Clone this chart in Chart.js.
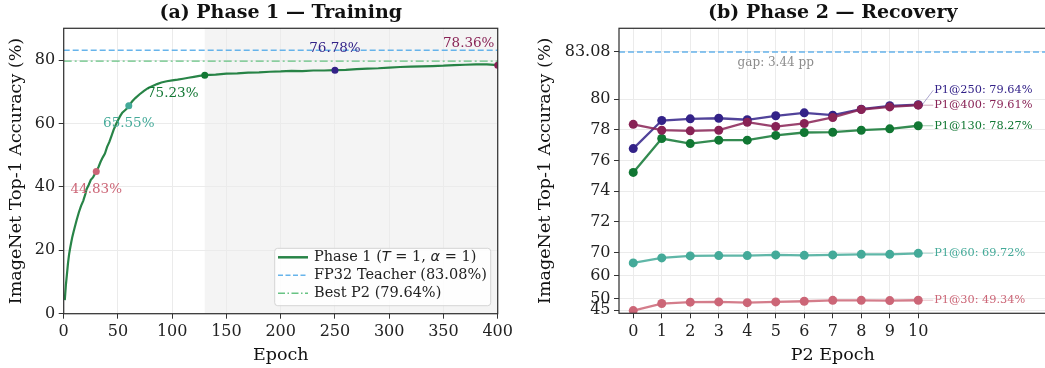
<!DOCTYPE html>
<html>
<head>
<meta charset="utf-8">
<script src="https://cdn.jsdelivr.net/npm/chart.js@4.4.1/dist/chart.umd.min.js"></script>
<style>
  html, body { margin: 0; padding: 0; background: #fff; overflow: hidden; }
  #wrap { position: relative; width: 1045px; height: 368px; overflow: hidden; }
  #left { position: absolute; left: 0; top: 0; }
  #right { position: absolute; left: 520px; top: 0; }
</style>
</head>
<body>
<div id="wrap">
  <div id="left"><canvas id="chartA" width="520" height="368"></canvas></div>
  <div id="right"><canvas id="chartB" width="531" height="368"></canvas></div>
</div>
<script>
const p1Epochs = [1, 2, 3, 4, 5, 6, 7, 8, 9, 10, 12, 14, 16, 18, 20, 21, 23, 25, 27, 30,
  32, 34, 36, 38, 40, 42, 44, 46, 48, 50, 52, 54, 56, 58, 60, 63, 66, 70, 74, 78,
  82, 86, 90, 95, 100, 105, 110, 115, 120, 125, 130, 140, 150, 160, 170, 180, 190, 200, 210, 220,
  230, 240, 250, 260, 270, 280, 290, 300, 310, 320, 330, 340, 350, 360, 370, 380, 390, 400];
const p1Acc = [4.3, 9.0, 12.5, 16.0, 18.8, 20.8, 22.6, 24.3, 25.7, 27.0, 29.6, 32.0, 34.0, 35.6, 37.8, 39.2, 40.6, 42.2, 43.0, 44.83,
  46.2, 47.9, 49.3, 50.5, 52.6, 54.1, 56.0, 58.0, 59.6, 61.0, 62.3, 63.4, 64.0, 64.6, 65.55, 66.9, 68.0, 69.2, 70.3, 71.2,
  71.8, 72.4, 72.9, 73.3, 73.6, 73.8, 74.1, 74.4, 74.7, 75.0, 75.23, 75.4, 75.7, 75.8, 76.0, 76.1, 76.3, 76.4, 76.6, 76.5,
  76.7, 76.7, 76.78, 76.9, 77.1, 77.3, 77.4, 77.6, 77.8, 77.9, 78.0, 78.1, 78.2, 78.4, 78.5, 78.6, 78.6, 78.36];

const markEpochs = [30, 60, 130, 250, 400];
const markAcc = [44.83, 65.55, 75.23, 76.78, 78.36];
const markNames = ['P1@30', 'P1@60', 'P1@130', 'P1@250', 'P1@400'];
const markColors = ['#CC6677', '#44AA99', '#117733', '#332288', '#882255'];

const teacherAcc = 83.08;
const bestP2Acc = 79.64;

const p2Epochs = [0, 1, 2, 3, 4, 5, 6, 7, 8, 9, 10];
const p2From30 = [44.83, 47.9, 48.5, 48.6, 48.3, 48.6, 48.9, 49.3, 49.3, 49.2, 49.34];
const p2From60 = [65.55, 67.72, 68.59, 68.72, 68.72, 69.02, 68.85, 69.02, 69.29, 69.29, 69.72];
const p2From130 = [75.23, 77.44, 77.11, 77.33, 77.33, 77.64, 77.83, 77.85, 77.98, 78.07, 78.27];
const p2From250 = [76.78, 78.61, 78.72, 78.76, 78.66, 78.92, 79.11, 78.96, 79.35, 79.57, 79.64];
const p2From400 = [78.36, 77.98, 77.94, 77.98, 78.5, 78.22, 78.42, 78.81, 79.33, 79.5, 79.61];

const leftXTicks = [0, 50, 100, 150, 200, 250, 300, 350, 400];
const leftYTicks = [0, 20, 40, 60, 80];
const rightYTicks = [45, 50, 60, 70, 72, 74, 76, 78, 80, 83.08];

const serif = 'DejaVu Serif';
const teacherColor = 'rgba(86,172,233,0.9)';
const bestColor = 'rgba(77,185,110,0.85)';
const p1Color = 'rgba(17,119,51,0.9)';

// axis below 70 is squeezed, like the reference
const toBroken = v => (v >= 70 ? v : 70 + (v - 70) * 0.15);
const fromBroken = t => (t >= 70 ? t : 70 + (t - 70) / 0.15);

const rgba = (hex, a) => {
  const n = parseInt(hex.slice(1), 16);
  return `rgba(${n >> 16},${(n >> 8) & 255},${n & 255},${a})`;
};

const axis = (title, titlePad, tickValues, size) => ({
  type: 'linear',
  grid: { color: '#ebebeb', lineWidth: 1, tickLength: 5, tickColor: '#333', tickWidth: 1 },
  border: { display: false },
  ticks: { color: '#222', padding: 3.5, autoSkip: false, maxRotation: 0, font: { family: serif, size: 16 } },
  title: { display: true, text: title, color: '#111', font: { family: serif, size: 17.5 }, padding: titlePad },
  afterBuildTicks: scale => { scale.ticks = tickValues.map(value => ({ value })); },
  afterFit: scale => {
    if (scale.isHorizontal()) scale.height = size; else scale.width = size;
  },
});

const titlePlugin = text => ({
  id: 'panelTitle',
  afterDraw(chart) {
    const { ctx, chartArea } = chart;
    ctx.save();
    ctx.font = `bold 19px "${serif}"`;
    ctx.fillStyle = '#111';
    ctx.textAlign = 'center';
    ctx.textBaseline = 'middle';
    ctx.fillText(text, (chartArea.left + chartArea.right) / 2, 13);
    ctx.restore();
  },
});

const framePlugin = {
  id: 'frame',
  afterDatasetsDraw(chart) {
    const { ctx, chartArea: a } = chart;
    ctx.save();
    ctx.strokeStyle = '#333';
    ctx.lineWidth = 1.25;
    ctx.strokeRect(a.left, a.top, a.right - a.left, a.bottom - a.top);
    ctx.restore();
  },
};

const shadePlugin = {
  id: 'shade',
  beforeDraw(chart) {
    const { ctx, chartArea: a, scales } = chart;
    const x0 = scales.x.getPixelForValue(130);
    const x1 = scales.x.getPixelForValue(400);
    ctx.save();
    ctx.fillStyle = '#f4f4f4';
    ctx.fillRect(x0, a.top, x1 - x0, a.bottom - a.top);
    ctx.restore();
  },
};

const leftLabelOffsets = [[0, 18], [0, 18], [-32, 18], [0, -22], [-29, -22]];

const leftLabels = {
  id: 'leftLabels',
  afterDatasetsDraw(chart) {
    const { ctx, scales } = chart;
    ctx.save();
    ctx.font = `13.5px "${serif}"`;
    ctx.textAlign = 'center';
    ctx.textBaseline = 'middle';
    markEpochs.forEach((ep, i) => {
      const x = scales.x.getPixelForValue(ep) + leftLabelOffsets[i][0];
      const y = scales.y.getPixelForValue(markAcc[i]) + leftLabelOffsets[i][1];
      ctx.fillStyle = markColors[i];
      ctx.fillText(markAcc[i].toFixed(2) + '%', x, y);
    });
    ctx.restore();
  },
};

const legendPlugin = {
  id: 'boxLegend',
  afterDraw(chart) {
    const { ctx } = chart;
    const bx = 274.7, by = 248.3, bw = 216, bh = 57.4;
    ctx.save();
    ctx.beginPath();
    ctx.roundRect(bx, by, bw, bh, 3);
    ctx.fillStyle = 'rgba(255,255,255,0.85)';
    ctx.fill();
    ctx.strokeStyle = '#d4d4d4';
    ctx.lineWidth = 1;
    ctx.stroke();

    const rows = [
      { color: p1Color, dash: [], width: 2.5, parts: [['Phase 1 (', 0], ['T', 1], [' = 1, ', 0], ['α', 1], [' = 1)', 0]] },
      { color: teacherColor, dash: [5, 2.5], width: 1.5, parts: [['FP32 Teacher (83.08%)', 0]] },
      { color: bestColor, dash: [7, 2.5, 1.5, 2.5], width: 1.5, parts: [['Best P2 (79.64%)', 0]] },
    ];
    const rowY = [257.3, 275.2, 293.3];
    rows.forEach((r, i) => {
      const y = rowY[i];
      ctx.beginPath();
      ctx.setLineDash(r.dash);
      ctx.strokeStyle = r.color;
      ctx.lineWidth = r.width;
      ctx.moveTo(278, y);
      ctx.lineTo(308, y);
      ctx.stroke();
      ctx.setLineDash([]);
      let x = 314;
      ctx.fillStyle = '#222';
      ctx.textBaseline = 'middle';
      ctx.textAlign = 'left';
      r.parts.forEach(([t, it]) => {
        ctx.font = it ? `italic 14.5px "DejaVu Sans"` : `14.5px "${serif}"`;
        ctx.fillText(t, x, y);
        x += ctx.measureText(t).width;
      });
    });
    ctx.restore();
  },
};

const pts = (xs, ys, f = v => v) => xs.map((x, i) => ({ x, y: f(ys[i]) }));

new Chart(document.getElementById('chartA'), {
  type: 'line',
  data: {
    datasets: [
      {
        data: pts(markEpochs, markAcc),
        showLine: false,
        pointRadius: 3.5,
        pointBorderWidth: 0,
        pointBackgroundColor: markColors,
      },
      {
        data: pts(p1Epochs, p1Acc),
        borderColor: p1Color,
        borderWidth: 2.2,
        pointRadius: 0,
        tension: 0,
      },
      {
        data: [{ x: 0, y: teacherAcc }, { x: 400, y: teacherAcc }],
        borderColor: teacherColor,
        borderWidth: 1.4,
        borderDash: [6, 3],
        pointRadius: 0,
      },
      {
        data: [{ x: 0, y: bestP2Acc }, { x: 400, y: bestP2Acc }],
        borderColor: bestColor,
        borderWidth: 1.4,
        borderDash: [8, 3, 2, 3],
        pointRadius: 0,
      },
    ],
  },
  options: {
    responsive: false,
    animation: false,
    layout: { padding: { top: 28.3, right: 22.3, left: 0, bottom: 0 } },
    plugins: { legend: { display: false }, tooltip: { enabled: false } },
    scales: {
      x: Object.assign(axis('Epoch', { top: 0, bottom: 2.5 }, leftXTicks, 54.3), { min: 0, max: 400 }),
      y: Object.assign(axis('ImageNet Top-1 Accuracy (%)', { top: 6.2, bottom: 0 }, leftYTicks, 63.7), { min: 0, max: 90 }),
    },
  },
  plugins: [shadePlugin, framePlugin, leftLabels, legendPlugin, titlePlugin('(a) Phase 1 — Training')],
});

const p2Series = [
  { name: 'P1@400', data: p2From400, color: '#882255', dy: 0 },
  { name: 'P1@250', data: p2From250, color: '#332288', dy: -14.5 },
  { name: 'P1@130', data: p2From130, color: '#117733', dy: 0 },
  { name: 'P1@60', data: p2From60, color: '#44AA99', dy: 0 },
  { name: 'P1@30', data: p2From30, color: '#CC6677', dy: 0 },
];

const rightLabels = {
  id: 'rightLabels',
  afterDatasetsDraw(chart) {
    const { ctx, scales } = chart;
    ctx.save();
    ctx.textBaseline = 'middle';
    ctx.textAlign = 'left';
    p2Series.forEach(s => {
      const last = s.data[s.data.length - 1];
      const px = scales.x.getPixelForValue(p2Epochs[p2Epochs.length - 1]);
      const py = scales.y.getPixelForValue(toBroken(last));
      const lx = px + 16;
      const ly = py + s.dy;
      ctx.beginPath();
      ctx.strokeStyle = rgba(s.color, 0.4);
      ctx.lineWidth = 1;
      ctx.moveTo(px + 4, py);
      ctx.lineTo(lx - 1, ly);
      ctx.stroke();
      ctx.font = `11.3px "${serif}"`;
      ctx.fillStyle = s.color;
      ctx.fillText(`${s.name}: ${last.toFixed(2)}%`, lx, ly);
    });
    ctx.font = `12px "${serif}"`;
    ctx.fillStyle = '#8c8c8c';
    ctx.textAlign = 'center';
    ctx.fillText(`gap: ${(teacherAcc - bestP2Acc).toFixed(2)} pp`,
      scales.x.getPixelForValue(5), scales.y.getPixelForValue(teacherAcc) + 11);
    ctx.restore();
  },
};

const rightY = axis('ImageNet Top-1 Accuracy (%)', { top: 15.2, bottom: 0 }, [], 99);
rightY.afterBuildTicks = scale => { scale.ticks = rightYTicks.map(v => ({ value: toBroken(v) })); };
rightY.ticks.callback = value => String(Number(fromBroken(value).toFixed(2)));
rightY.min = 66.05;
rightY.max = 84.62;

new Chart(document.getElementById('chartB'), {
  type: 'line',
  data: {
    datasets: [
      ...p2Series.map(s => ({
        data: pts(p2Epochs, s.data, toBroken),
        borderColor: rgba(s.color, 0.85),
        borderWidth: 2.3,
        pointRadius: 4.5,
        pointBorderWidth: 0,
        pointBackgroundColor: s.color,
        tension: 0,
      })),
      {
        data: [{ x: -0.5, y: teacherAcc }, { x: 14.5, y: teacherAcc }],
        borderColor: teacherColor,
        borderWidth: 1.4,
        borderDash: [6, 3],
        pointRadius: 0,
      },
    ],
  },
  options: {
    responsive: false,
    animation: false,
    layout: { padding: { top: 28.3, right: 0, left: 0, bottom: 0 } },
    plugins: { legend: { display: false }, tooltip: { enabled: false } },
    scales: {
      x: Object.assign(axis('P2 Epoch', { top: 0, bottom: 2.5 }, p2Epochs, 54.7), { min: -0.5, max: 14.5 }),
      y: rightY,
    },
  },
  plugins: [framePlugin, rightLabels, titlePlugin('(b) Phase 2 — Recovery')],
});
</script>
</body>
</html>
